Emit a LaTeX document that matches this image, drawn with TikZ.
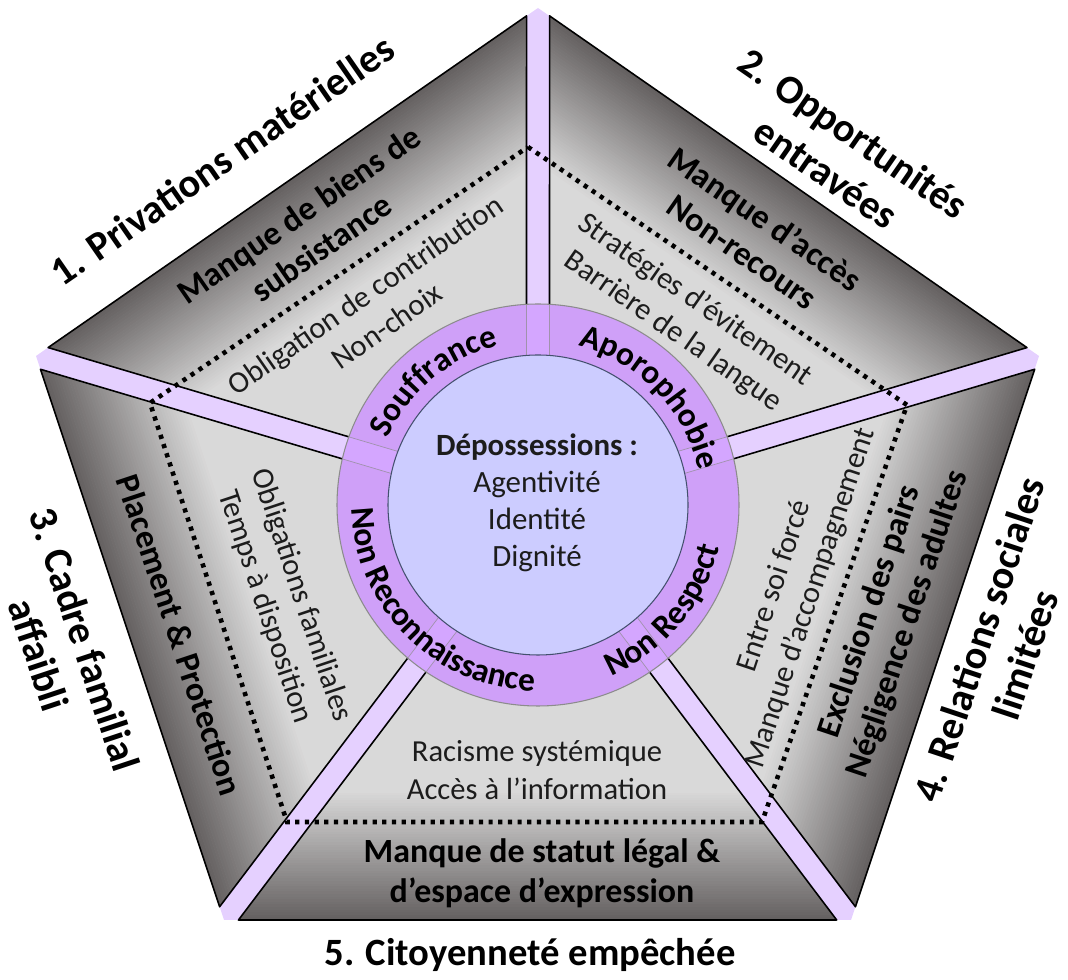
\documentclass[tikz,border=0pt]{standalone}
\usepackage{fontspec}
\setmainfont{Carlito}
\usetikzlibrary{calc, decorations.text}

\definecolor{bandLav}{HTML}{E5D0FF}
\definecolor{secDark}{HTML}{656161}
\definecolor{secLight}{HTML}{D9D9D9}
\definecolor{ringPurple}{HTML}{CFA0F8}
\definecolor{ringBand}{HTML}{D4A6FF}
\definecolor{ringEdge}{HTML}{8C8C8C}
\definecolor{coreBlue}{HTML}{CCCCFF}
\definecolor{coreEdge}{HTML}{44506E}
\definecolor{txtGray}{HTML}{1C1C1C}

\newcommand{\ringfont}{\bfseries\fontsize{19}{21}\selectfont}

\begin{document}
\begin{tikzpicture}[x=0.02cm, y=0.02cm,
  outer/.style={font=\bfseries\fontsize{23}{27.5}\selectfont, align=center},
  secbold/.style={font=\bfseries\fontsize{19.3}{22.8}\selectfont, align=center},
  secnorm/.style={font=\fontsize{17.4}{21.6}\selectfont, align=center, text=txtGray},
  core/.style={font=\fontsize{17.6}{21}\selectfont, align=center, text=txtGray},
  secline/.style={line width=0.9pt, line join=round},
  dotline/.style={line width=2.6pt, dash pattern=on 2.4pt off 3.1pt},
  ringtext/.style={decorate, decoration={text along path, text align=center, text={#1}}}]
\useasboundingbox (0,0) rectangle (1068,980);

% centre and corners of the pentagon
\coordinate (C) at (538,475);
\coordinate (V1) at (538,972);
\coordinate (V2) at (1039,624);
\coordinate (V3) at (851,60);
\coordinate (V4) at (224,60);
\coordinate (V5) at (36,624);

% lavender bands
\fill[bandLav] (V1) -- (V2) -- (V3) -- (V4) -- (V5) -- cycle;

% grey sectors
\foreach \a/\b/\ang in {V5/V1/34.73, V1/V2/-34.78, V2/V3/-108.43, V3/V4/180, V4/V5/108.43}{
  \coordinate (ra\a) at ($(C)!0.23cm!-90:(\a)$);
  \coordinate (rb\a) at ($(\a)!0.23cm!90:(C)$);
  \coordinate (la\b) at ($(C)!0.23cm!90:(\b)$);
  \coordinate (lb\b) at ($(\b)!0.23cm!-90:(C)$);
  \coordinate (s1) at (intersection cs: first line={(ra\a)--(rb\a)}, second line={(\a)--(\b)});
  \coordinate (s2) at (intersection cs: first line={(la\b)--(lb\b)}, second line={(\a)--(\b)});
  \coordinate (q) at (intersection cs: first line={(ra\a)--(rb\a)}, second line={(la\b)--(lb\b)});
  \begin{scope}
    \clip (q) -- (s1) -- (s2) -- cycle;
    \fill[secLight] (q) -- (s1) -- (s2) -- cycle;
    \begin{scope}[shift={($(\a)!0.5!(\b)$)}, rotate=\ang]
      \foreach \k in {0,...,49}{
        \pgfmathsetmacro\shadepct{100-\k*100/49}
        \fill[secDark!\shadepct!secLight] (-700,-2.6*\k) rectangle (700,-2.6*\k-3.1);
      }
    \end{scope}
  \end{scope}
  \draw[secline] (q) -- (s1) -- (s2) -- cycle;
}

% dotted pentagon
\coordinate (D1) at (528,833);
\coordinate (D2) at (907,575);
\coordinate (D3) at (762,158);
\coordinate (D4) at (287,158);
\coordinate (D5) at (150,577);
\draw[dotline] (D1) -- (D2) -- (D3) -- (D4) -- (D5) -- cycle;

% ring and core
\fill[ringPurple] (C) circle[radius=201];
\begin{scope}
  \clip (C) circle[radius=201];
  \foreach \v in {V1,V2,V3,V4,V5}{
    \fill[ringBand] ($(C)!0.23cm!90:(\v)$) -- ($(\v)!0.23cm!-90:(C)$)
      -- ($(\v)!0.23cm!90:(C)$) -- ($(C)!0.23cm!-90:(\v)$) -- cycle;
    \draw[ringEdge!70!ringPurple, line width=0.4pt] ($(C)!0.23cm!90:(\v)$) -- ($(\v)!0.23cm!-90:(C)$);
    \draw[ringEdge!70!ringPurple, line width=0.4pt] ($(C)!0.23cm!-90:(\v)$) -- ($(\v)!0.23cm!90:(C)$);
  }
\end{scope}
\draw[ringEdge, line width=0.6pt] (C) circle[radius=201];
\filldraw[fill=coreBlue, draw=coreEdge, line width=0.6pt] (C) circle[radius=150];

% ring words
\path[ringtext={|\ringfont|Souffrance}] ($(C)+(180:164)$) arc[start angle=180, end angle=80, radius=164];
\path[ringtext={|\ringfont|Aporophobie}] ($(C)+(94:164)$) arc[start angle=94, end angle=-6, radius=164];
\path[ringtext={|\ringfont|Non Respect}] ($(C)+(-95:186)$) arc[start angle=-95, end angle=15, radius=186];
\path[ringtext={|\ringfont|Non Reconnaissance}] ($(C)+(150:186)$) arc[start angle=150, end angle=300, radius=186];

\node[core] (core) at (537,477) {\textbf{Dépossessions :}\\Agentivité\\Identité\\Dignité};

% outer titles
\node[outer, rotate=34.7] (lab1) at (222,820) {1. Privations matérielles};
\node[outer, rotate=-34.8] (lab2) at (840,827) {2. Opportunités\\entravées};
\node[outer, rotate=-71.6] (lab3) at (62,333) {3. Cadre familial\\affaibli};
\node[outer, rotate=71.6] (lab4) at (1002,333) {4. Relations sociales\\limitées};
\node[outer, font=\bfseries\fontsize{22}{26}\selectfont, anchor=base] (lab5) at (530,14) {5. Citoyenneté empêchée};

% sector texts
\node[secbold, rotate=34.7] (sec1b) at (310,749) {Manque de biens de\\subsistance};
\node[secnorm, rotate=34.7] (sec1n) at (376,670) {Obligation de contribution\\Non-choix};
\node[secbold, rotate=-34.8] (sec2b) at (754,745) {Manque d’accès\\Non-recours};
\node[secnorm, rotate=-34.8] (sec2n) at (684,664) {Stratégies d’évitement\\Barrière de la langue};
\node[secbold, rotate=-71.6] (sec3b) at (180,345) {Placement \& Protection};
\node[secnorm, rotate=-71.6] (sec3n) at (283,379) {Obligations familiales\\Temps à disposition};
\node[secbold, rotate=71.6] (sec4b) at (889,362) {Exclusion des pairs\\Négligence des adultes};
\node[secnorm, rotate=71.6] (sec4n) at (793,388) {Entre soi forcé\\Manque d’accompagnement};
\node[secbold] (sec5b) at (542,107) {Manque de statut légal \&\\d’espace d’expression};
\node[secnorm] (sec5n) at (537,210) {Racisme systémique\\Accès à l’information};
\end{tikzpicture}
\end{document}
